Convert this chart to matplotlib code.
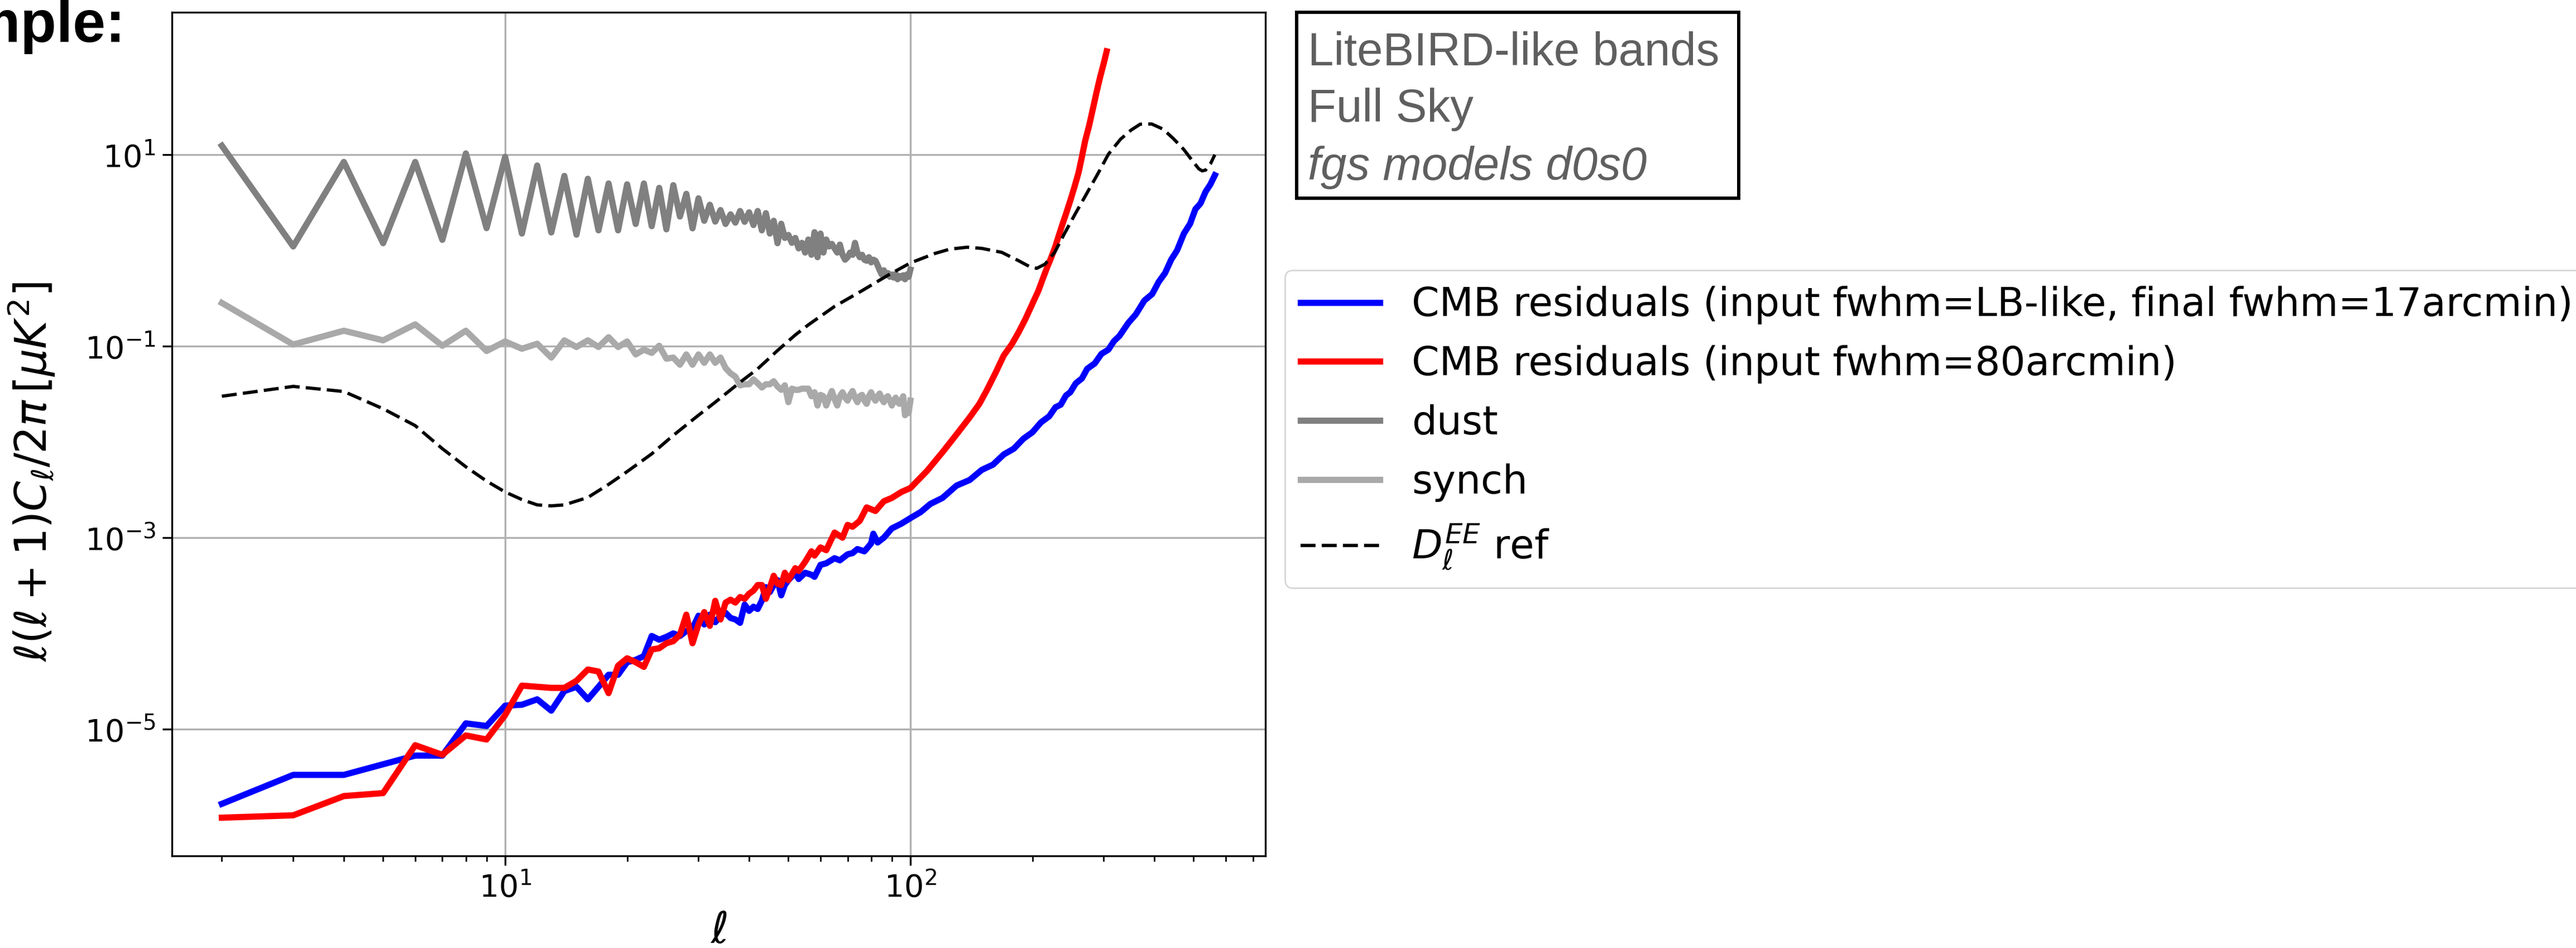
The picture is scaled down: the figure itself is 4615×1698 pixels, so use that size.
import numpy as np
import matplotlib
matplotlib.use("Agg")
import matplotlib.pyplot as plt
from matplotlib.patches import Rectangle
from matplotlib.ticker import NullLocator, LogLocator, NullFormatter

# ---------------------------------------------------------------- data
# foreground spectra, one value per multipole 2..100
ell_fg = np.arange(2, 101)
dust = [12.4, 1.1, 8.4, 1.19, 8.4, 1.29, 10.3, 1.71, 9.5,
        1.5, 7.7, 1.54, 6.0, 1.46, 5.6, 1.62, 5.0, 1.62, 4.9,
        1.89, 5.0, 1.79, 4.5, 1.66, 4.8, 2.26, 3.9, 1.70, 3.5,
        2.04, 3.0, 2.0, 2.64, 1.89, 2.38, 1.95, 2.58, 1.99, 2.5,
        1.84, 2.58, 1.62, 2.45, 1.50, 2.04, 1.19, 1.9, 1.35, 1.45,
        1.2, 1.35, 1.05, 1.2, 0.95, 1.3, 0.9, 1.55, 0.85, 1.5,
        0.95, 1.3, 1.1, 1.17, 1.05, 0.95, 1.15, 0.9, 0.8, 0.85,
        0.95, 0.9, 1.2, 0.95, 0.85, 0.9, 0.8, 0.78, 0.85, 0.75,
        0.8, 0.78, 0.7, 0.62, 0.56, 0.62, 0.55, 0.58, 0.53, 0.56,
        0.52, 0.57, 0.5, 0.54, 0.52, 0.55, 0.5, 0.56, 0.53, 0.63]
synch = [0.283, 0.104, 0.145, 0.115, 0.169, 0.101, 0.145, 0.089, 0.112,
         0.094, 0.106, 0.076, 0.115, 0.098, 0.115, 0.098, 0.124, 0.098, 0.112,
         0.082, 0.092, 0.085, 0.101, 0.074, 0.076, 0.064, 0.082, 0.064, 0.082,
         0.067, 0.082, 0.067, 0.076, 0.059, 0.052, 0.048, 0.039, 0.040, 0.040,
         0.045, 0.041, 0.037, 0.040, 0.040, 0.043, 0.038, 0.035, 0.039, 0.026,
         0.036, 0.035, 0.035, 0.036, 0.036, 0.036, 0.030, 0.033, 0.024, 0.031,
         0.030, 0.024, 0.029, 0.034, 0.028, 0.024, 0.030, 0.033, 0.029, 0.027,
         0.031, 0.034, 0.029, 0.026, 0.030, 0.031, 0.027, 0.025, 0.030, 0.033,
         0.029, 0.027, 0.030, 0.032, 0.028, 0.026, 0.029, 0.030, 0.027, 0.024,
         0.027, 0.029, 0.026, 0.025, 0.027, 0.030, 0.019, 0.022, 0.020, 0.027]

# CMB residuals, LB-like input beams smoothed to 17 arcmin
ell_res_lb = [2, 3, 4, 5, 6, 7, 8, 9, 10, 11, 12, 13, 14, 15, 16, 17, 18, 19, 20,
              21, 22, 23, 24, 25, 26, 27, 28, 29, 30, 31, 32, 33, 34, 35, 36, 37,
              38, 39, 40, 41, 42, 43, 44, 45, 46, 47, 48, 49, 50, 52, 53, 55, 57,
              58, 60, 62, 65, 67, 70, 72, 74, 77, 80, 81, 83, 86, 90, 95, 100,
              106, 112, 120, 130, 140, 150, 160, 170, 180, 190, 200, 210, 220,
              228, 235, 242, 248, 256, 265, 273, 285, 296, 308, 318, 328, 345,
              360, 378, 395, 410, 425, 440, 455, 473, 490, 505, 520, 535, 550, 564]
res_lb = [1.66e-6, 3.33e-6, 3.33e-6, 4.3e-6, 5.3e-6, 5.3e-6, 1.15e-5, 1.08e-5,
          1.76e-5, 1.8e-5, 2.05e-5, 1.56e-5, 2.5e-5, 2.77e-5, 2.05e-5, 2.77e-5,
          3.7e-5, 3.7e-5, 5.0e-5, 5.3e-5, 5.8e-5, 9.4e-5, 8.6e-5, 9.2e-5, 1.0e-4,
          9.4e-5, 1.06e-4, 1.13e-4, 1.53e-4, 1.24e-4, 1.57e-4, 1.31e-4, 1.53e-4,
          1.64e-4, 1.45e-4, 1.4e-4, 1.29e-4, 2.0e-4, 1.72e-4, 1.9e-4, 1.8e-4,
          2.2e-4, 3.04e-4, 2.7e-4, 3.2e-4, 3.6e-4, 2.5e-4, 3.2e-4, 3.6e-4, 4.3e-4,
          3.7e-4, 4.3e-4, 4.1e-4, 3.9e-4, 5.2e-4, 5.4e-4, 6.1e-4, 5.8e-4, 6.7e-4,
          6.9e-4, 7.6e-4, 7.2e-4, 8.7e-4, 1.1e-3, 8.9e-4, 1.0e-3, 1.25e-3, 1.4e-3,
          1.6e-3, 1.85e-3, 2.25e-3, 2.6e-3, 3.5e-3, 4.0e-3, 5.1e-3, 5.8e-3, 7.4e-3,
          8.5e-3, 1.08e-2, 1.26e-2, 1.6e-2, 1.85e-2, 2.3e-2, 2.45e-2, 3.05e-2,
          3.3e-2, 4.1e-2, 4.6e-2, 5.8e-2, 6.6e-2, 8.3e-2, 9.2e-2, 1.13e-1, 1.28e-1,
          1.75e-1, 2.15e-1, 3.0e-1, 3.5e-1, 4.7e-1, 5.8e-1, 8.0e-1, 1.0, 1.5,
          1.9, 2.7, 3.1, 4.1, 4.9, 6.1]

# CMB residuals, 80 arcmin input beams
ell_res_80 = [2, 3, 4, 5, 6, 7, 8, 9, 10, 11, 12, 13, 14, 15, 16, 17, 18, 19, 20,
              21, 22, 23, 24, 25, 26, 27, 28, 29, 30, 31, 32, 33, 34, 35, 36, 37,
              38, 39, 40, 41, 42, 43, 44, 45, 46, 47, 48, 49, 50, 52, 53, 55, 57,
              58, 60, 62, 65, 68, 70, 72, 75, 78, 82, 86, 90, 95, 100, 110, 120,
              130, 140, 148, 154, 162, 170, 178, 185, 192, 201, 207, 212, 217,
              222, 227, 232, 237, 242, 248, 254, 260, 265, 270, 276, 282, 288,
              294, 300, 305]
res_80 = [1.19e-6, 1.26e-6, 2.0e-6, 2.15e-6, 6.8e-6, 5.4e-6, 8.6e-6, 7.8e-6,
          1.4e-5, 2.85e-5, 2.77e-5, 2.7e-5, 2.7e-5, 3.2e-5, 4.2e-5, 4.0e-5,
          2.38e-5, 4.6e-5, 5.5e-5, 5.0e-5, 4.47e-5, 6.8e-5, 7.0e-5, 7.9e-5,
          8.3e-5, 9.7e-5, 1.57e-4, 7.9e-5, 1.24e-4, 1.67e-4, 1.2e-4, 2.19e-4,
          1.4e-4, 2.1e-4, 2.25e-4, 2.1e-4, 2.4e-4, 2.3e-4, 2.6e-4, 2.8e-4, 3.2e-4,
          3.2e-4, 2.3e-4, 3.0e-4, 4.0e-4, 3.3e-4, 3.2e-4, 4.3e-4, 3.6e-4, 4.8e-4,
          4.5e-4, 5.6e-4, 7.2e-4, 6.5e-4, 7.9e-4, 7.4e-4, 1.13e-3, 1.0e-3,
          1.36e-3, 1.3e-3, 1.5e-3, 2.07e-3, 1.9e-3, 2.4e-3, 2.6e-3, 3.0e-3,
          3.3e-3, 5.0e-3, 7.8e-3, 1.2e-2, 1.8e-2, 2.5e-2, 3.4e-2, 5.2e-2, 8.0e-2,
          1.05e-1, 1.4e-1, 1.9e-1, 2.9e-1, 3.8e-1, 5.0e-1, 6.5e-1, 8.2e-1, 1.05,
          1.4, 1.85, 2.4, 3.3, 4.6, 6.5, 9.5, 14.0, 20.0, 30.0, 45.0, 65.0, 90.0,
          120.0]

# reference lensed EE spectrum
ell_ref = [2, 3, 4, 5, 6, 7, 8, 9, 10, 11, 12, 13, 14, 16, 18, 20, 23, 26, 30,
           33, 38, 42, 47, 52, 56, 65, 76, 88, 100, 115, 125, 138, 150, 168,
           185, 197, 205, 215, 227, 240, 255, 273, 290, 308, 330, 350, 369, 394,
           420, 445, 473, 500, 515, 525, 535, 550, 564]
dl_ee_ref = [0.030, 0.038, 0.0336, 0.0222, 0.0148, 0.0085, 0.0055, 0.0039,
             0.0030, 0.0025, 0.0022, 0.00215, 0.0022, 0.00263, 0.0036, 0.0049,
             0.0075, 0.0117, 0.019, 0.026, 0.042, 0.058, 0.09, 0.131, 0.167,
             0.26, 0.38, 0.55, 0.74, 0.93, 1.03, 1.08, 1.05, 0.955, 0.78, 0.676,
             0.65, 0.72, 0.955, 1.5, 2.4, 4.0, 6.3, 10.1, 14.5, 18.0, 20.8, 20.9,
             18.5, 14.8, 11.3, 8.3, 7.1, 6.77, 6.9, 8.0, 10.0]

labels = ["CMB residuals (input fwhm=LB-like, final fwhm=17arcmin)",
          "CMB residuals (input fwhm=80arcmin)",
          "dust",
          "synch",
          r"$D_\ell^{EE}$ ref"]

info_lines = ["LiteBIRD-like bands", "Full Sky", "fgs models d0s0"]

# ---------------------------------------------------------------- figure
W, H = 4615, 1698
fig = plt.figure(figsize=(W / 100, H / 100), dpi=100)
ax = fig.add_axes([308 / W, 1 - 1533 / H, (2267 - 308) / W, (1533 - 22) / H])

ax.plot(ell_res_lb, res_lb, color="#0000ff", lw=8, label=labels[0])
ax.plot(ell_res_80, res_80, color="#ff0000", lw=8, label=labels[1])
ax.plot(ell_fg, dust, color="#808080", lw=8, label=labels[2])
ax.plot(ell_fg, synch, color="#a9a9a9", lw=8, label=labels[3])
ax.plot(ell_ref, dl_ee_ref, color="k", ls="--", lw=4.2, dashes=(4.6, 1.9),
        label=labels[4])

ax.set_xscale("log")
ax.set_yscale("log")
ax.set_xlim(1.506, 751.6)
ax.set_ylim(4.75e-7, 306.9)

ax.set_yticks([1e-5, 1e-3, 1e-1, 1e1])
ax.yaxis.set_minor_locator(NullLocator())
ax.xaxis.set_major_locator(LogLocator(base=10, numticks=10))
ax.xaxis.set_minor_locator(LogLocator(base=10, subs=np.arange(2, 10), numticks=20))
ax.xaxis.set_minor_formatter(NullFormatter())

ax.grid(True, which="major", color="#b0b0b0", lw=2.4)
ax.set_axisbelow(True)
for sp in ax.spines.values():
    sp.set_linewidth(2.4)
ax.tick_params(which="major", length=12, width=2.4, labelsize=40, pad=9)
ax.tick_params(which="minor", length=7, width=2.0)

ax.set_xlabel(r"$\ell$", fontsize=56, labelpad=8)
ax.set_ylabel(r"$\ell(\ell+1)C_\ell/2\pi\,[\mu K^2]$", fontsize=56)
ax.yaxis.set_label_coords((102 - 308) / (2267 - 308), 0.455)

leg = ax.legend(loc="upper left", bbox_to_anchor=(2302 / W, 1 - 484 / H),
                bbox_transform=fig.transFigure, borderaxespad=0, fontsize=51,
                labelspacing=0.52)
leg.get_frame().set_linewidth(2)

# annotation box in the upper right
fig.add_artist(Rectangle((2323 / W, 1 - 355 / H), (3115 - 2323) / W, (355 - 22) / H,
                         transform=fig.transFigure, fill=False, ec="black", lw=4.3))
for txt, base, style in zip(info_lines, [117, 218, 322], ["normal", "normal", "italic"]):
    fig.text(2343 / W, 1 - base / H, txt, ha="left", va="baseline", fontsize=60,
             family="Liberation Sans", style=style, color="#5f5f5f")

# slide heading, partly outside the canvas
fig.text(224 / W, 1 - 75 / H, "Example:", ha="right", va="baseline", fontsize=76,
         fontweight="bold", family="Liberation Sans", color="black")

fig.savefig("out.png", dpi=100)
